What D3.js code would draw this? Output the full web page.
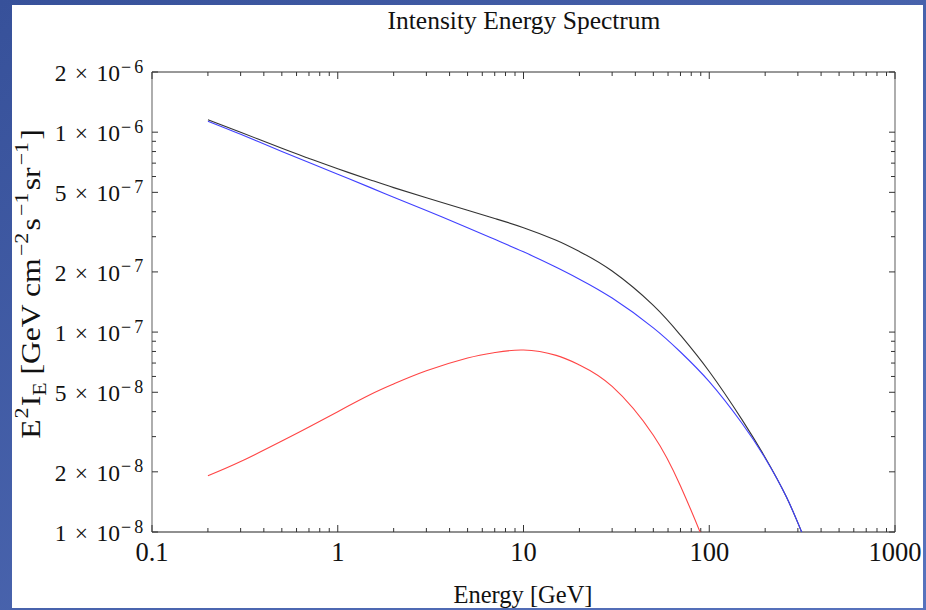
<!DOCTYPE html>
<html><head><meta charset="utf-8">
<script src="https://cdn.jsdelivr.net/npm/d3@7"></script>
<style>html,body{margin:0;padding:0;background:#fff}svg{display:block}</style>
</head><body>
<script>
// ---- data ----
const energies = [0.2,0.3,0.5,0.7,1,1.5,2,3,5,7,10,15,20,30,50,70,100,150,200,260,320];
const totalFlux = [1.154e-6,9.99e-7,8.30e-7,7.39e-7,6.56e-7,5.77e-7,5.28e-7,4.70e-7,4.07e-7,3.70e-7,3.33e-7,2.88e-7,2.53e-7,2.02e-7,1.36e-7,9.65e-8,6.35e-8,3.65e-8,2.36e-8,1.5e-8,9.6e-9];
const blueFlux = [1.135e-6,9.76e-7,8.01e-7,7.05e-7,6.16e-7,5.28e-7,4.73e-7,4.06e-7,3.33e-7,2.91e-7,2.52e-7,2.11e-7,1.84e-7,1.48e-7,1.05e-7,7.95e-8,5.65e-8,3.5e-8,2.34e-8,1.5e-8,9.6e-9];
const redEnergies = [0.2,0.3,0.5,0.7,1,1.5,2,3,5,7,10,15,20,30,50,70,90,95];
const redFlux = [1.91e-8,2.25e-8,2.85e-8,3.35e-8,4.0e-8,4.87e-8,5.5e-8,6.4e-8,7.42e-8,7.9e-8,8.13e-8,7.65e-8,6.85e-8,5.35e-8,3.05e-8,1.7e-8,9.8e-9,8.5e-9];
const xMajorTicks = [0.1,1,10,100,1000];
const xTickLabels = ["0.1","1","10","100","1000"];
const yMajorTicks = [1e-8,2e-8,5e-8,1e-7,2e-7,5e-7,1e-6,2e-6];
const yTickMantissa = ["1","2","5","1","2","5","1","2"];
const yTickExponent = ["8","8","8","7","7","7","6","6"];
const title = "Intensity Energy Spectrum";
const xTitle = "Energy [GeV]";

const W = 926, H = 610;
const m = {left:152, right:895, top:72, bottom:532};
const serif = "'Liberation Serif','Times New Roman',serif";
const panel = {x:12, y:5, w:911, h:603};

const svg = d3.select("body").append("svg").attr("width",W).attr("height",H);
const defs = svg.append("defs");
const grad = defs.append("linearGradient").attr("id","bg").attr("x1","0").attr("y1","0").attr("x2","1").attr("y2","1");
grad.append("stop").attr("offset","0").attr("stop-color","#37519a");
grad.append("stop").attr("offset","1").attr("stop-color","#5873bd");
svg.append("rect").attr("width",W).attr("height",H).attr("fill","#fff");

defs.append("clipPath").attr("id","clip").append("rect")
  .attr("x",m.left).attr("y",m.top).attr("width",m.right-m.left).attr("height",m.bottom-m.top);

const x = d3.scaleLog().domain([0.1,1000]).range([m.left,m.right]);
const y = d3.scaleLog().domain([1e-8,2e-6]).range([m.bottom,m.top]);

// frame
const frame = svg.append("g");
frame.append("line").attr("x1",m.left).attr("x2",m.right).attr("y1",m.bottom).attr("y2",m.bottom).attr("stroke","#222").attr("stroke-width",1.2);
frame.append("line").attr("x1",m.left).attr("x2",m.right).attr("y1",m.top).attr("y2",m.top).attr("stroke","#333").attr("stroke-width",1);
frame.append("line").attr("x1",m.left).attr("x2",m.left).attr("y1",m.top).attr("y2",m.bottom).attr("stroke","#777").attr("stroke-width",1.2);
frame.append("line").attr("x1",m.right).attr("x2",m.right).attr("y1",m.top).attr("y2",m.bottom).attr("stroke","#777").attr("stroke-width",1.2);

// ticks
const xMinor = [];
[0.1,1,10,100].forEach(d=>{for(let k=2;k<=9;k++) xMinor.push(d*k);});
const yMinor = [];
[1e-8,1e-7,1e-6].forEach(d=>{[3,4,6,7,8,9].forEach(k=>{ if(d*k<=2e-6) yMinor.push(d*k);});});
const tk = svg.append("g").attr("stroke","#333").attr("stroke-width",1);
function xt(vals,len){
  vals.forEach(v=>{
    tk.append("line").attr("x1",x(v)).attr("x2",x(v)).attr("y1",m.bottom).attr("y2",m.bottom-len);
    tk.append("line").attr("x1",x(v)).attr("x2",x(v)).attr("y1",m.top).attr("y2",m.top+len);
  });
}
function yt(vals,len){
  vals.forEach(v=>{
    tk.append("line").attr("y1",y(v)).attr("y2",y(v)).attr("x1",m.left).attr("x2",m.left+len);
    tk.append("line").attr("y1",y(v)).attr("y2",y(v)).attr("x1",m.right).attr("x2",m.right-len);
  });
}
xt(xMajorTicks,7); xt(xMinor,4);
yt(yMajorTicks,6); yt(yMinor,4);

// x tick labels
svg.append("g").selectAll("text").data(xMajorTicks).join("text")
  .attr("x",d=>x(d)).attr("y",561).attr("text-anchor","middle")
  .attr("font-family",serif).attr("font-size",26.5).attr("fill","#111")
  .text((d,i)=>xTickLabels[i]);

// y tick labels
const yg = svg.append("g").attr("font-family",serif).attr("fill","#111");
yMajorTicks.forEach((d,i)=>{
  const ty = y(d);
  yg.append("text").attr("x",60.5).attr("y",ty+9).attr("text-anchor","middle").attr("font-size",23.5).text(yTickMantissa[i]);
  yg.append("text").attr("x",81.5).attr("y",ty+9).attr("text-anchor","middle").attr("font-size",23.5).text("×");
  yg.append("text").attr("x",120).attr("y",ty+9).attr("text-anchor","end").attr("font-size",23.5).text("10");
  const e = yg.append("text").attr("x",121).attr("y",ty+0.5).attr("font-size",18);
  e.append("tspan").text("−");
  e.append("tspan").attr("dx",3).text(yTickExponent[i]);
});

// curves
const line = d3.line().curve(d3.curveNatural);
const plot = svg.append("g").attr("clip-path","url(#clip)").attr("fill","none");
plot.append("path").attr("d",line(redEnergies.map((e,i)=>[x(e),y(redFlux[i])]))).attr("stroke","#ff4545").attr("stroke-width",1.1);
plot.append("path").attr("d",line(energies.map((e,i)=>[x(e),y(totalFlux[i])]))).attr("stroke","#333").attr("stroke-width",1.1);
plot.append("path").attr("d",line(energies.map((e,i)=>[x(e),y(blueFlux[i])]))).attr("stroke","#4040ff").attr("stroke-width",1.1);

// title & axis titles
svg.append("text").attr("x",524).attr("y",29).attr("text-anchor","middle")
  .attr("font-family",serif).attr("font-size",25.5).attr("fill","#111").text(title);
svg.append("text").attr("x",523).attr("y",603).attr("text-anchor","middle")
  .attr("font-family",serif).attr("font-size",24.5).attr("fill","#111").text(xTitle);

const yt2 = svg.append("text").attr("transform","translate(40,284) rotate(-90) scale(1.15,1)")
  .attr("text-anchor","middle").attr("font-family",serif).attr("font-size",27.5).attr("fill","#111");
const parts = [["E",0,27.5,0],["2",-12,19,1],["I",12,27.5,1],["E",6,19,0],[" [GeV cm",-6,27.5,0],["−2",-12,19,2],["s",12,27.5,2],["−1",-12,19,2],["sr",12,27.5,2],["−1",-12,19,2],["]",12,27.5,2]];
parts.forEach(p=>yt2.append("tspan").attr("dy",p[1]).attr("dx",p[3]).attr("font-size",p[2]).text(p[0]));

// blue border around the white panel (drawn last, so it trims overflowing text)
svg.append("path")
  .attr("d",`M0,0H${W}V${H}H0Z M${panel.x},${panel.y}V${panel.y+panel.h}H${panel.x+panel.w}V${panel.y}Z`)
  .attr("fill","url(#bg)").attr("fill-rule","evenodd");
</script>
</body></html>
